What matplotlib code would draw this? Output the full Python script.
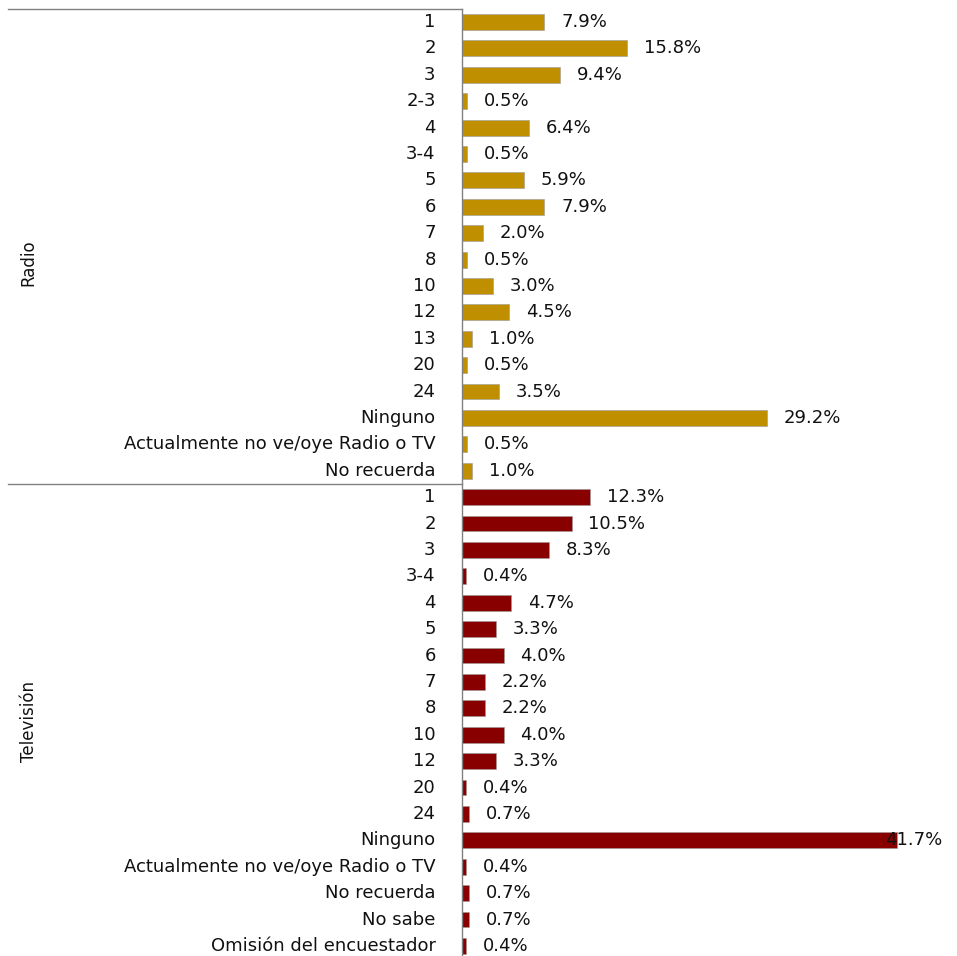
import matplotlib
matplotlib.use('Agg')
import matplotlib.pyplot as plt
import matplotlib.transforms as mtransforms

# Radio data
radio_labels = ['1', '2', '3', '2-3', '4', '3-4', '5', '6', '7', '8', '10', '12', '13',
                '20', '24', 'Ninguno', 'Actualmente no ve/oye Radio o TV', 'No recuerda']
radio_values = [7.9, 15.8, 9.4, 0.5, 6.4, 0.5, 5.9, 7.9, 2.0, 0.5, 3.0, 4.5, 1.0,
                0.5, 3.5, 29.2, 0.5, 1.0]

# Television data
tv_labels = ['1', '2', '3', '3-4', '4', '5', '6', '7', '8', '10', '12', '20', '24',
             'Ninguno', 'Actualmente no ve/oye Radio o TV', 'No recuerda', 'No sabe',
             'Omisión del encuestador']
tv_values = [12.3, 10.5, 8.3, 0.4, 4.7, 3.3, 4.0, 2.2, 2.2, 4.0, 3.3, 0.4, 0.7,
             41.7, 0.4, 0.7, 0.7, 0.4]

group_names = ['Radio', 'Televisión']
radio_color = '#BF8F00'
tv_color = '#880000'

labels = radio_labels + tv_labels
values = radio_values + tv_values
colors = [radio_color] * len(radio_values) + [tv_color] * len(tv_values)
n = len(values)
rows = list(range(n))

fig = plt.figure(figsize=(9.57, 9.56), dpi=100)
ax = fig.add_axes([0.4828, -0.0033, 1 - 0.4828, 0.9941])

ax.barh(rows, values, height=0.6, color=colors, edgecolor='#9a9a9a', linewidth=0.4)
ax.set_ylim(n - 0.5, -0.5)
ax.set_xlim(0, 47.46)

# category labels
ax.set_yticks(rows)
ax.set_yticklabels(labels, fontsize=13, color='#111111', va='center')
ax.tick_params(axis='y', length=0, pad=19)
ax.set_xticks([])

for s in ['top', 'right', 'bottom']:
    ax.spines[s].set_visible(False)
ax.spines['left'].set_color('#808080')
ax.spines['left'].set_linewidth(1.0)

# value labels
for r, v in zip(rows, values):
    x = min(v + 1.6, 40.6)
    ax.text(x, r, f'{v:.1f}%', va='center', ha='left', fontsize=13, color='#111111')

# group separators and group names
trans = mtransforms.blended_transform_factory(fig.transFigure, ax.transData)
bounds = [-0.5, len(radio_values) - 0.5, n - 0.5]
for b in bounds:
    ax.plot([0.008, 0.4828], [b, b], transform=trans, color='#808080',
            linewidth=1.0, clip_on=False)

group_centers = [(len(radio_values) - 1) / 2 + 0.6, len(radio_values) + (len(tv_values) - 1) / 2]
for name, c in zip(group_names, group_centers):
    ax.text(0.03, c, name, transform=trans, rotation=90, ha='center', va='center',
            fontsize=12, family=['Liberation Sans Narrow', 'DejaVu Sans'], color='#111111')

fig.savefig('out.png', dpi=100, facecolor='white')
